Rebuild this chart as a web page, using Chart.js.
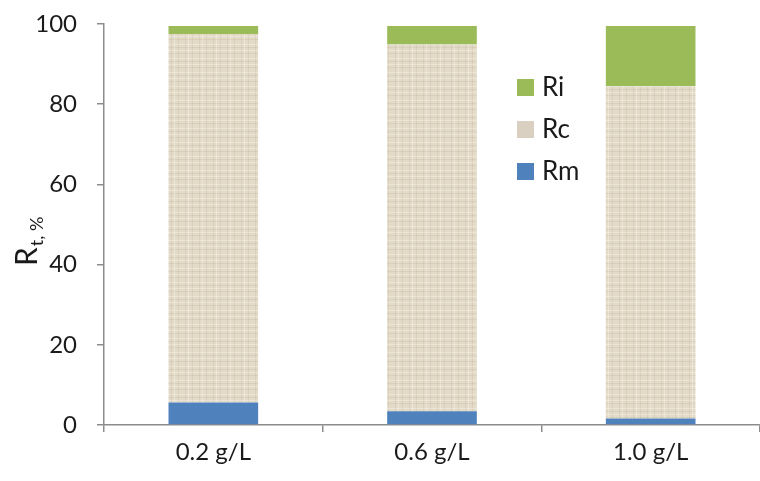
<!DOCTYPE html>
<html>
<head>
<meta charset="utf-8">
<script src="https://cdn.jsdelivr.net/npm/chart.js@4.4.1/dist/chart.umd.min.js"></script>
<style>
  html, body { margin: 0; padding: 0; background: #fff; }
  #wrap { width: 760px; height: 481px; }
</style>
</head>
<body>
<div id="wrap"><canvas id="myChart" width="760" height="481"></canvas></div>
<script>
// data
var categories = ['0.2 g/L', '0.6 g/L', '1.0 g/L'];
var seriesNames = ['Rm', 'Rc', 'Ri'];
var rmValues = [5.6, 3.4, 1.6];
var rcValues = [91.9, 91.5, 82.9];
var riValues = [2.0, 4.6, 15.0];
var yTicks = [0, 20, 40, 60, 80, 100];

var fontName = 'Lato, "Open Sans", sans-serif';
var axisGrey = '#8c8c8c';

// linen-like texture for Rc
function makeLinen() {
    var c = document.createElement('canvas');
    c.width = 14; c.height = 14;
    var g = c.getContext('2d');
    g.fillStyle = '#e3dac8';
    g.fillRect(0, 0, 14, 14);
    g.fillStyle = 'rgba(175,160,130,0.18)';
    g.fillRect(3, 0, 1, 14);
    g.fillRect(10, 0, 1, 14);
    g.fillRect(0, 5, 14, 1);
    g.fillRect(0, 11, 14, 1);
    g.fillStyle = 'rgba(250,248,240,0.35)';
    g.fillRect(6, 0, 1, 14);
    g.fillRect(0, 2, 14, 1);
    g.fillRect(0, 8, 14, 1);
    return g.createPattern(c, 'repeat');
}
var ctx = document.getElementById('myChart').getContext('2d');
var linen = makeLinen();

var legendColors = { Rm: '#4f81bd', Rc: '#d9d0c1', Ri: '#9bbb59' };

// legend drawn inside the plot, top to bottom Ri, Rc, Rm
var boxLegend = {
    id: 'boxLegend',
    afterDraw: function (chart) {
        var c = chart.ctx;
        var order = chart.data.datasets.slice().reverse();
        c.save();
        c.font = '26px ' + fontName;
        c.textBaseline = 'middle';
        order.forEach(function (ds, i) {
            var y = 87 + i * 42;
            c.fillStyle = legendColors[ds.label];
            c.fillRect(517, y - 8, 17, 17);
            c.fillStyle = '#1a1a1a';
            c.fillText(ds.label, 542, y + 1);
        });
        c.restore();
    }
};

// y title with subscript, and x axis line running to the right edge
var extras = {
    id: 'extras',
    afterDraw: function (chart) {
        var c = chart.ctx;
        var area = chart.chartArea;
        c.save();
        c.strokeStyle = axisGrey;
        c.lineWidth = 1.5;
        c.beginPath();
        c.moveTo(area.right, area.bottom);
        c.lineTo(chart.width, area.bottom);
        c.stroke();

        c.translate(37, 266);
        c.rotate(-Math.PI / 2);
        c.fillStyle = '#1a1a1a';
        c.textBaseline = 'alphabetic';
        c.font = '30px ' + fontName;
        c.fillText('R', 0, 0);
        var w = c.measureText('R').width;
        c.font = '18px ' + fontName;
        c.fillText('t, %', w + 1, 6);
        c.restore();
    }
};

var myChart = new Chart(ctx, {
    type: 'bar',
    data: {
        labels: categories,
        datasets: [{
            label: seriesNames[0],
            data: rmValues,
            backgroundColor: '#4f81bd'
        }, {
            label: seriesNames[1],
            data: rcValues,
            backgroundColor: linen
        }, {
            label: seriesNames[2],
            data: riValues,
            backgroundColor: '#9bbb59'
        }]
    },
    options: {
        responsive: false,
        animation: false,
        devicePixelRatio: 1,
        layout: { padding: { top: 24, right: 0, left: 0, bottom: 0 } },
        datasets: {
            bar: { categoryPercentage: 1, barPercentage: 0.41, borderWidth: 0 }
        },
        plugins: {
            legend: { display: false },
            tooltip: { enabled: false }
        },
        scales: {
            x: {
                stacked: true,
                grid: { offset: true, drawOnChartArea: false, drawTicks: true, tickLength: 7, color: axisGrey, lineWidth: 1.5 },
                border: { display: true, color: axisGrey, width: 1.5 },
                ticks: { color: '#1a1a1a', font: { family: fontName, size: 24 }, padding: 6 },
                afterFit: function (scale) {
                    scale.height = 56;
                    scale.paddingLeft = 0;
                    scale.paddingRight = 0;
                }
            },
            y: {
                stacked: true,
                min: 0,
                max: 100,
                afterBuildTicks: function (scale) {
                    scale.ticks = yTicks.map(function (v) { return { value: v }; });
                },
                grid: { drawOnChartArea: false, drawTicks: true, tickLength: 7, color: axisGrey, lineWidth: 1.5 },
                border: { display: true, color: axisGrey, width: 1.5 },
                ticks: { color: '#1a1a1a', font: { family: fontName, size: 24 }, padding: 20 },
                afterFit: function (scale) {
                    scale.width = 104;
                    scale.paddingTop = 0;
                    scale.paddingBottom = 0;
                }
            }
        }
    },
    plugins: [boxLegend, extras]
});
</script>
</body>
</html>
